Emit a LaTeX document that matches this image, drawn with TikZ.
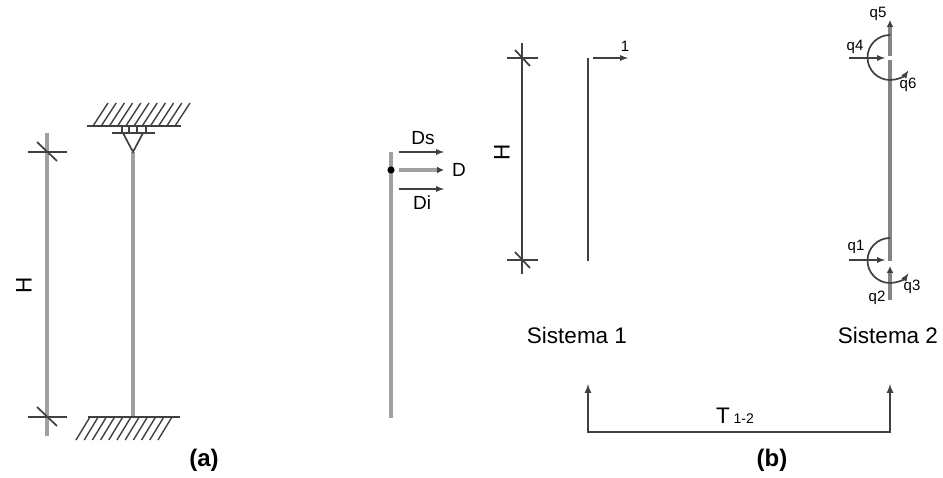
\documentclass[tikz,border=0pt]{standalone}
\usepackage{fontspec}
\setmainfont{Liberation Sans}
\usetikzlibrary{arrows,arrows.meta,calc,positioning}
\definecolor{bargray}{HTML}{A0A0A0}
\definecolor{midgray}{HTML}{858585}
\definecolor{inkgray}{HTML}{404040}
\tikzset{%
	barline/.style  = {draw=bargray, line width=3.1pt}, % Column
	dimline/.style  = {draw=midgray, line width=3.1pt},
	thinline/.style = {draw=inkgray, line width=1.7pt},
	wall/.style     = {draw=inkgray, line width=1.7pt},
	hatch/.style    = {draw=inkgray, line width=1.4pt},
	arrow/.style    = {thinline, -latex},
	bararrow/.style = {-{Latex[length=7pt,width=7pt,color=inkgray]}},
	lbig/.style     = {inner sep=0pt, font=\fontsize{22.5}{22.5}\selectfont},
	lmid/.style     = {inner sep=0pt, font=\fontsize{19}{19}\selectfont},
	lsmall/.style   = {inner sep=0pt, font=\fontsize{15}{15}\selectfont},
	lbold/.style    = {inner sep=0pt, font=\fontsize{24}{24}\selectfont\bfseries},
}
\begin{document}
\begin{tikzpicture}[x=1pt,y=-1pt,>=latex]
	\useasboundingbox (0,0) rectangle (943,478);

	% (a)
	\coordinate (atop) at (47,133);
	\coordinate (abot) at (47,436);
	\coordinate (atick) at (47,152);
	\coordinate (btick) at (47,417);
	\coordinate (wallt) at (133,126);
	\coordinate (apex) at (133,152);
	\coordinate (wallb) at (133,417);
	\draw[barline] (atop) -- (abot);
	\draw[barline] (apex) -- (wallb);
	\foreach \p in {atick,btick} {
		\draw[thinline] ($(\p)+(-19,0)$) -- ($(\p)+(20,0)$);
		\draw[thinline] ($(\p)+(-10,-10)$) -- ($(\p)+(10,9)$);
	}
	\draw[wall] ($(wallt)+(-46,0)$) -- ($(wallt)+(48,0)$);
	\foreach \i in {0,...,10}
		\draw[hatch] ($(wallt)+(-40+8.2*\i,0)$) -- ++(15,-23);
	\draw[wall] ($(wallt)+(-21,7)$) -- ($(wallt)+(22,7)$);
	\foreach \i in {-11,-4,4,13}
		\draw[hatch] ($(wallt)+(\i,0)$) -- ++(0,7);
	\draw[wall] ($(wallt)+(-10,7)$) -- (apex) -- ($(wallt)+(10,7)$);
	\draw[wall] ($(wallb)+(-45,0)$) -- ($(wallb)+(47,0)$);
	\foreach \i in {0,...,10}
		\draw[hatch] ($(wallb)+(-43+8.2*\i,0)$) -- ++(-14,23);
	\node [lbig,rotate=90] (ha) at (24,285) {H};
	\node [lbold] (la) at (204,460) {(a)};

	% middle
	\coordinate (mtop) at (391,152);
	\coordinate (mbot) at (391,418);
	\coordinate (mdot) at (391,170);
	\draw[barline] (mtop) -- (mbot);
	\fill[black] (mdot) circle (3.6);
	\coordinate (dsa) at (399,152);
	\coordinate (dsb) at (444,152);
	\coordinate (da) at (399,170);
	\coordinate (db) at (444,170);
	\coordinate (dia) at (399,189);
	\coordinate (dib) at (444,189);
	\draw[arrow] (dsa) -- (dsb);
	\draw[barline,bararrow] (da) -- (db);
	\draw[arrow] (dia) -- (dib);
	\node [lmid] (ds) at (423,138) {Ds};
	\node [lmid] (d) [right=8pt of db] {D};
	\node [lmid] (di) at (422,203) {Di};

	% Sistema 1
	\coordinate (htop) at (522,43);
	\coordinate (hbot) at (522,274);
	\coordinate (ctick) at (522,58);
	\coordinate (dtick) at (522,260);
	\coordinate (s1top) at (588,58);
	\coordinate (s1bot) at (588,261);
	\coordinate (fa) at (593,58);
	\coordinate (fb) at (628,58);
	\draw[thinline] (htop) -- (hbot);
	\foreach \p in {ctick,dtick} {
		\draw[thinline] ($(\p)+(-15,0)$) -- ($(\p)+(16,0)$);
		\draw[thinline] ($(\p)+(-7,-8)$) -- ($(\p)+(8,8)$);
	}
	\draw[thinline] (s1top) -- (s1bot);
	\draw[arrow] (fa) -- (fb);
	\node [lsmall] (one) at (625,46) {1};
	\node [lbig,rotate=90] (hb) at (502,152) {H};
	\node [lbig] (s1) at (577,335) {Sistema 1};

	% Sistema 2
	\coordinate (s2top) at (890,60);
	\coordinate (s2bot) at (890,261);
	\coordinate (q5a) at (890,56);
	\coordinate (q5b) at (890,20);
	\coordinate (q2a) at (890,300);
	\coordinate (q2b) at (890,266);
	\coordinate (q4a) at (849,58);
	\coordinate (q4b) at (885,58);
	\coordinate (q1a) at (849,260);
	\coordinate (q1b) at (885,260);
	\draw[dimline] (s2top) -- (s2bot);
	\draw[dimline,bararrow] (q5a) -- (q5b);
	\draw[dimline,bararrow] (q2a) -- (q2b);
	\draw[arrow] (q4a) -- (q4b);
	\draw[arrow] (q1a) -- (q1b);
	\draw[arrow] (890,35) arc (-90:-325:22.5);
	\draw[arrow] (890,238) arc (-90:-325:22.5);
	\node [lsmall] (q5) at (878,14) {q5};
	\node [lsmall] (q4) at (855,47) {q4};
	\node [lsmall] (q6) at (908,85) {q6};
	\node [lsmall] (q1) at (856,247) {q1};
	\node [lsmall] (q3) at (912,287) {q3};
	\node [lsmall] (q2) at (877,298) {q2};
	\node [lbig] (s2) at (888,335) {Sistema 2};

	% T
	\coordinate (tl) at (588,432);
	\coordinate (tr) at (890,432);
	\coordinate (tla) at (588,384);
	\coordinate (tra) at (890,384);
	\draw[latex-latex,thinline,line width=2pt] (tla) -- (tl) -- (tr) -- (tra);
	\node [lbig] (t) at (735,416) {T\,{\fontsize{14}{14}\selectfont 1-2}};
	\node [lbold] (lb) at (772,460) {(b)};
\end{tikzpicture}
\end{document}
